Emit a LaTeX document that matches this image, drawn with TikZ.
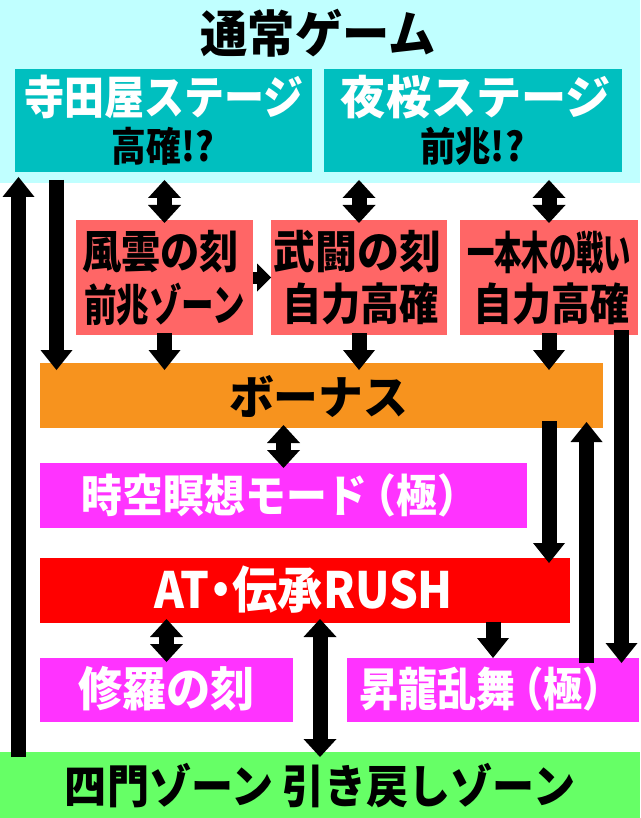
\documentclass[tikz,border=0pt]{standalone}
\usepackage{fontspec}
\IfFontExistsTF{Noto Sans CJK JP Black}
  {\setmainfont{Noto Sans CJK JP}[BoldFont={* Black}]}
  {\setmainfont{Noto Sans CJK JP}[BoldFont={* Bold},BoldFeatures={FakeBold=1.2}]}
\usetikzlibrary{arrows.meta}
\newcommand{\fw}[2]{\resizebox{#1}{\height}{#2}}
\definecolor{bandc}{HTML}{C0FFFF}
\definecolor{tealc}{HTML}{00BFBF}
\definecolor{salc}{HTML}{FF6666}
\definecolor{orac}{HTML}{F7931E}
\definecolor{magc}{HTML}{FF33FF}
\definecolor{redc}{HTML}{FF0000}
\definecolor{grnc}{HTML}{66FF66}
\begin{document}
\begin{tikzpicture}[x=1pt,y=-1pt,
  every node/.style={inner sep=0pt,outer sep=0pt},
  box/.style={rectangle,draw=none,minimum width=#1},
  lbl/.style={font=\bfseries\fontsize{#1}{#1}\selectfont},
  arr/.style={draw=black,line width=15pt,-{Triangle[width=32pt,length=20pt,line width=0pt]}},
  darr/.style={draw=black,line width=15pt,{Triangle[width=33pt,length=18pt,line width=0pt]}-{Triangle[width=33pt,length=18pt,line width=0pt]}},
  sarr/.style={draw=black,line width=12pt,-{Triangle[width=28pt,length=14pt,line width=0pt]}}
]
\fill[white] (0,0) rectangle (640,818);
\useasboundingbox (0,0) rectangle (640,818);
% boxes
\node[box=640pt,fill=bandc,minimum height=183pt] (band) at (320,91.5) {};
\node[box=297pt,fill=tealc,minimum height=103pt] (A) at (163.5,120.5) {};
\node[box=298pt,fill=tealc,minimum height=103pt] (B) at (473,120.5) {};
\node[box=177pt,fill=salc,minimum height=115pt] (C) at (164.5,277.5) {};
\node[box=176pt,fill=salc,minimum height=115pt] (D) at (359,277.5) {};
\node[box=178pt,fill=salc,minimum height=115pt] (E) at (549,277.5) {};
\node[box=563pt,fill=orac,minimum height=65pt] (bonus) at (321.5,395.5) {};
\node[box=487pt,fill=magc,minimum height=65pt] (J) at (283.5,495.5) {};
\node[box=530pt,fill=redc,minimum height=65pt] (AT) at (305,590.5) {};
\node[box=253pt,fill=magc,minimum height=64pt] (K) at (166.5,690) {};
\node[box=292pt,fill=magc,minimum height=64pt] (S) at (493,690) {};
\node[box=640pt,fill=grnc,minimum height=66pt] (green) at (320,785) {};
% texts
\node[lbl=50] (title) at (318,33) {\fw{235pt}{通常ゲーム}};
\node[lbl=46,text=white] (A1) at (164,97) {\fw{279pt}{寺田屋ステージ}};
\node[lbl=40] (A2) at (163,146) {\fw{102pt}{高確!?}};
\node[lbl=46,text=white] (B1) at (476,97) {\fw{270pt}{夜桜ステージ}};
\node[lbl=40] (B2) at (472,146) {\fw{104pt}{前兆!?}};
\node[lbl=45] (C1) at (160.5,252) {\fw{157pt}{風雲の刻}};
\node[lbl=44] (C2) at (164.5,304) {\fw{161pt}{前兆ゾーン}};
\node[lbl=45] (D1) at (357,252) {\fw{168pt}{武闘の刻}};
\node[lbl=44] (D2) at (360.5,304) {\fw{157pt}{自力高確}};
\node[lbl=45] (E1) at (549,252) {\fw{164pt}{一本木の戦い}};
\node[lbl=44] (E2) at (551,304) {\fw{156pt}{自力高確}};
\node[lbl=46] (bonusT) at (318.5,397) {\fw{179pt}{ボーナス}};
\node[lbl=45,text=white] (JT) at (280,495) {\fw{396pt}{時空瞑想モード\hspace{-0.3em}（極）}};
\node[lbl=50,text=white] (ATT) at (304,590) {\fw{298pt}{AT\hspace{-0.25em}・\hspace{-0.25em}伝承RUSH}};
\node[lbl=47,text=white] (KT) at (166.5,689) {\fw{177pt}{修羅の刻}};
\node[lbl=46,text=white] (ST) at (490.5,689) {\fw{263pt}{昇龍乱舞\hspace{-0.3em}（極）}};
\node[lbl=46] (greenT) at (320,786) {\fw{510pt}{四門ゾーン 引き戻しゾーン}};
% x positions
\coordinate (xa) at (18.5,0);
\coordinate (xb) at (56.5,0);
\coordinate (xu) at (586.5,0);
\coordinate (xr) at (621.5,0);
% arrows
\draw[arr] ([yshift=-5pt]green.north -| xa) -- ([yshift=6pt]band.south -| xa);
\draw[arr] ([yshift=3pt]band.south -| xb) -- ([yshift=-7pt]bonus.north -| xb);
\draw[darr] ([yshift=3pt]band.south -| C.north) -- ([yshift=-3pt]C.north);
\draw[darr] ([yshift=3pt]band.south -| D.north) -- ([yshift=-3pt]D.north);
\draw[darr] ([yshift=3pt]band.south -| E.north) -- ([yshift=-3pt]E.north);
\draw[sarr] (C.east) -- (D.west);
\draw[arr] ([yshift=2pt]C.south) -- ([yshift=-7pt]bonus.north -| C.south);
\draw[arr] ([yshift=2pt]D.south) -- ([yshift=-7pt]bonus.north -| D.south);
\draw[arr] ([yshift=2pt]E.south) -- ([yshift=-7pt]bonus.north -| E.south);
\draw[darr] ([yshift=3pt]bonus.south -| J.north) -- ([yshift=-5pt]J.north);
\draw[arr] ([yshift=7pt]bonus.south -| E.south) -- ([yshift=-5pt]AT.north -| E.south);
\draw[arr] ([yshift=-5pt]S.north -| xu) -- ([yshift=6pt]bonus.south -| xu);
\draw[arr] ([yshift=5pt]E.south -| xr) -- ([yshift=-5pt]S.north -| xr);
\draw[darr] ([yshift=4pt]AT.south -| K.north) -- ([yshift=-4pt]K.north);
\draw[darr] ([yshift=4pt]AT.south -| green.north) -- ([yshift=-5pt]green.north);
\draw[arr] ([yshift=1pt]AT.south -| S.north) -- (S.north);
\end{tikzpicture}
\end{document}
